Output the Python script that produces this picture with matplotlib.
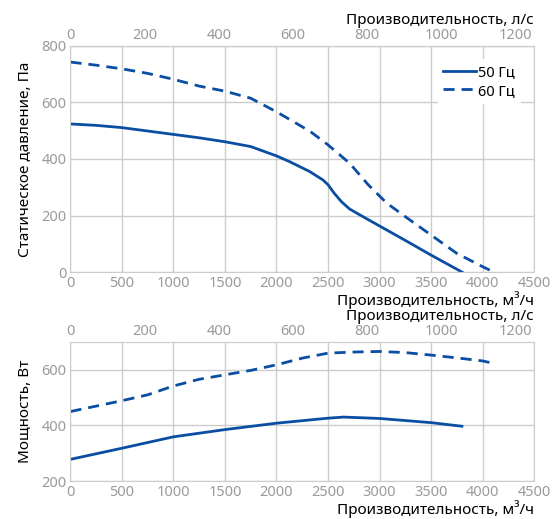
import matplotlib.pyplot as plt
import numpy as np

plt.rcParams['font.family'] = ['Noto Sans', 'DejaVu Sans']

# flow, m3/h
flow_p50 = [0, 250, 500, 750, 1000, 1250, 1500, 1750, 2000, 2125, 2320, 2450, 2500, 2560, 2630, 2710, 2810, 3000, 3250, 3500, 3800]
pres_50 = [524, 519, 511, 499, 487, 475, 461, 444, 411, 391, 356, 326, 309, 279, 249, 223, 202, 163, 112, 60, 0]

flow_p60 = [0, 250, 500, 750, 1000, 1250, 1500, 1750, 2000, 2250, 2340, 2500, 2710, 2890, 3070, 3250, 3500, 3750, 4000, 4110]
pres_60 = [743, 732, 719, 703, 682, 658, 640, 615, 567, 514, 494, 450, 385, 309, 244, 196, 131, 66, 19, 0]

flow_w50 = [0, 500, 1000, 1500, 2000, 2500, 2650, 3000, 3500, 3800]
power_50 = [278, 318, 359, 385, 408, 426, 430, 425, 410, 397]

flow_w60 = [0, 500, 750, 1000, 1250, 1500, 1750, 2000, 2250, 2500, 2750, 3000, 3250, 3500, 3750, 4000, 4110]
power_60 = [450, 489, 510, 542, 566, 582, 598, 618, 642, 660, 664, 666, 662, 653, 643, 632, 623]

blue = '#0a4ea3'
grey = '#9a9a9a'
grid = '#cccccc'

fig = plt.figure(figsize=(5.52, 5.19), dpi=100)
ax1 = fig.add_axes([0.1277, 0.4759, 0.8397, 0.4355])
ax2 = fig.add_axes([0.1277, 0.0732, 0.8397, 0.2678])


def style(ax, ylim, yticks, ylabel):
    ax.set_xlim(0, 4500)
    ax.set_ylim(*ylim)
    ax.set_xticks(np.arange(0, 4501, 500))
    ax.set_yticks(yticks)
    ax.grid(True, color=grid, lw=1)
    ax.set_axisbelow(True)
    for s in ax.spines.values():
        s.set_color(grid)
    ax.tick_params(length=0, pad=3, labelsize=10.5, labelcolor=grey)
    ax.set_ylabel(ylabel, fontsize=11, labelpad=6)
    ax.set_xlabel('Производительность, м³/ч', fontsize=11, loc='right', labelpad=0)
    sec = ax.secondary_xaxis('top', functions=(lambda x: x / 3.6, lambda x: x * 3.6))
    sec.set_xticks(np.arange(0, 1201, 200))
    sec.tick_params(length=0, pad=2, labelsize=10.5, labelcolor=grey)
    sec.spines['top'].set_color(grid)
    sec.set_xlabel('Производительность, л/с', fontsize=11, loc='right', labelpad=3)


ax1.plot(flow_p50, pres_50, color=blue, lw=2, label='50 Гц')
ax1.plot(flow_p60, pres_60, color=blue, lw=2, dashes=(4, 2.5), label='60 Гц')
style(ax1, (0, 800), np.arange(0, 801, 200), 'Статическое давление, Па')
leg = ax1.legend(loc='upper right', frameon=True, fancybox=False, framealpha=1,
                 edgecolor='white', fontsize=10.5, handlelength=2.2, handletextpad=0.2,
                 borderaxespad=0.9, labelspacing=0.25)
leg.get_frame().set_linewidth(0)

ax2.plot(flow_w50, power_50, color=blue, lw=2)
ax2.plot(flow_w60, power_60, color=blue, lw=2, dashes=(4, 2.5))
style(ax2, (200, 700), np.arange(200, 701, 200), 'Мощность, Вт')

fig.savefig('out.png', dpi=100)
